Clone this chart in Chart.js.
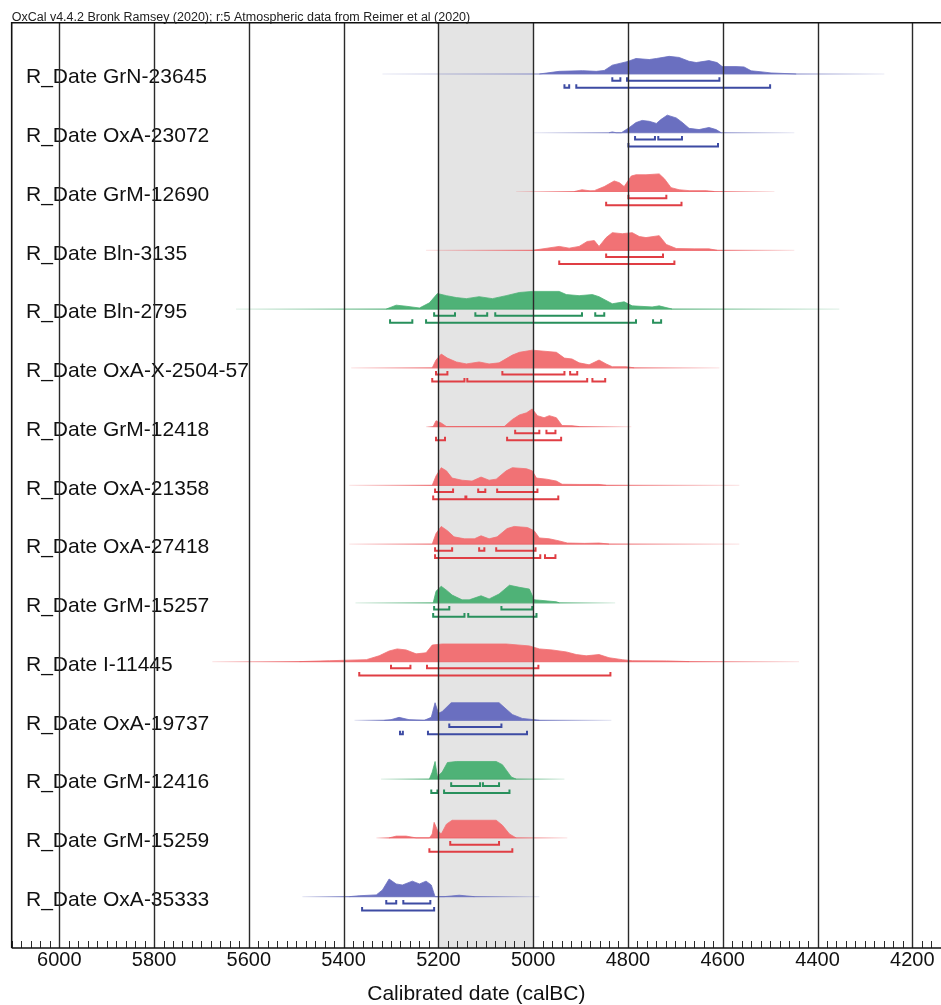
<!DOCTYPE html>
<html>
<head>
<meta charset="utf-8">
<script src="https://cdn.jsdelivr.net/npm/chart.js@4.4.1/dist/chart.umd.min.js"></script>
<style>
  html, body { margin: 0; padding: 0; background: #fff; }
  canvas { display: block; }
</style>
</head>
<body>
<canvas id="oxcal" width="941" height="1005"></canvas>
<script>
// ---- data (years calBC, relative probability 0-100) ----
const sampleNames = [
  'R_Date GrN-23645', 'R_Date OxA-23072', 'R_Date GrM-12690', 'R_Date Bln-3135',
  'R_Date Bln-2795', 'R_Date OxA-X-2504-57', 'R_Date GrM-12418', 'R_Date OxA-21358',
  'R_Date OxA-27418', 'R_Date GrM-15257', 'R_Date I-11445', 'R_Date OxA-19737',
  'R_Date GrM-12416', 'R_Date GrM-15259', 'R_Date OxA-35333'
];
const rowColour = ['blue', 'blue', 'red', 'red', 'green', 'red', 'red', 'red',
  'red', 'green', 'red', 'blue', 'green', 'red', 'blue'];

const xTicks = [6000, 5800, 5600, 5400, 5200, 5000, 4800, 4600, 4400, 4200];
const highlight = [5200, 5000];

// extent of the thin line under each distribution
const extents = [
  [5318, 4259], [5000, 4449], [5036, 4491], [5226, 4449], [5627, 4354],
  [5384, 4607], [5226, 4793], [5388, 4565], [5388, 4565], [5375, 4827],
  [5677, 4439], [5377, 4835], [5321, 4934], [5331, 4928], [5487, 4987]
];

const densities = [
  [[4987,0],[4945,15],[4896,19],[4867,15],[4850,20],[4833,50],[4802,70],[4783,88],[4755,82],[4740,88],[4713,100],[4692,94],[4671,72],[4656,65],[4629,76],[4612,65],[4601,42],[4572,42],[4555,40],[4540,18],[4517,12],[4498,6],[4445,0]],
  [[4840,0],[4833,5],[4825,0],[4814,0],[4797,30],[4783,58],[4770,70],[4755,65],[4740,53],[4730,76],[4717,100],[4698,84],[4686,60],[4671,25],[4650,18],[4629,30],[4614,18],[4603,0]],
  [[4913,0],[4897,10],[4880,4],[4871,5],[4850,28],[4829,60],[4818,50],[4808,28],[4793,88],[4783,95],[4762,95],[4734,100],[4723,72],[4709,22],[4692,10],[4671,5],[4635,5],[4618,0]],
  [[5000,0],[4945,22],[4924,12],[4903,22],[4886,50],[4871,55],[4861,22],[4846,72],[4833,100],[4812,94],[4791,100],[4776,78],[4762,72],[4734,83],[4719,33],[4698,10],[4660,8],[4629,8],[4612,0]],
  [[5310,0],[5289,22],[5268,16],[5240,6],[5219,35],[5202,88],[5183,76],[5162,65],[5141,59],[5114,70],[5086,59],[5057,76],[5029,94],[5002,100],[4945,100],[4930,82],[4903,76],[4875,82],[4861,70],[4833,30],[4808,41],[4791,18],[4749,12],[4734,18],[4707,0]],
  [[5213,0],[5205,44],[5194,78],[5181,55],[5162,33],[5141,22],[5114,33],[5093,22],[5072,28],[5044,72],[5029,88],[5002,100],[4951,88],[4934,55],[4918,50],[4903,28],[4882,17],[4861,44],[4846,22],[4833,6],[4804,6],[4787,0]],
  [[5211,0],[5205,33],[5194,20],[5183,0],[5061,0],[5044,40],[5029,66],[5014,78],[5002,100],[4991,62],[4977,50],[4966,62],[4951,50],[4939,6],[4918,5],[4903,0]],
  [[5213,0],[5205,53],[5194,100],[5183,82],[5171,41],[5150,29],[5129,24],[5110,47],[5093,29],[5078,35],[5057,82],[5044,100],[5014,94],[5002,82],[4993,41],[4972,35],[4951,24],[4939,6],[4903,5],[4861,5],[4846,0]],
  [[5213,0],[5205,60],[5194,100],[5181,76],[5167,41],[5145,30],[5124,30],[5110,47],[5093,30],[5076,41],[5055,88],[5040,100],[5012,94],[4998,76],[4987,35],[4966,30],[4945,18],[4928,6],[4892,4],[4861,6],[4840,0]],
  [[5211,0],[5205,66],[5194,94],[5183,72],[5171,44],[5150,17],[5135,17],[5110,40],[5093,22],[5072,50],[5050,100],[5029,88],[5008,78],[4998,17],[4987,15],[4951,6],[4945,0]],
  [[5493,0],[5430,5],[5352,11],[5325,33],[5304,60],[5287,72],[5268,66],[5247,44],[5226,50],[5213,94],[5192,100],[5057,100],[5008,89],[4987,72],[4960,66],[4930,55],[4909,40],[4888,33],[4861,40],[4840,22],[4812,11],[4791,5],[4719,4],[4671,0]],
  [[5314,0],[5300,4],[5283,17],[5262,4],[5230,0],[5215,17],[5207,100],[5200,40],[5192,50],[5173,100],[5072,100],[5044,33],[5023,11],[5002,5],[4987,0]],
  [[5219,0],[5213,40],[5207,100],[5202,15],[5192,40],[5181,94],[5162,100],[5078,100],[5065,82],[5046,12],[5036,0]],
  [[5304,0],[5289,10],[5268,10],[5247,0],[5219,0],[5213,22],[5209,88],[5202,44],[5194,22],[5183,78],[5171,100],[5078,100],[5065,72],[5050,22],[5036,0]],
  [[5388,0],[5367,5],[5331,10],[5318,38],[5304,100],[5289,72],[5276,66],[5255,88],[5240,72],[5226,88],[5215,66],[5207,0],[5188,0],[5156,8],[5124,0]]
];

// 68.2% and 95.4% highest probability ranges
const ranges68 = [
  [[4833,4816],[4802,4607]],
  [[4785,4743],[4736,4686]],
  [[4799,4719]],
  [[4846,4726]],
  [[5209,5165],[5122,5097],[5080,4897],[4869,4850]],
  [[5205,5181],[5065,4934],[4922,4907]],
  [[5038,4987],[4972,4953]],
  [[5207,5169],[5116,5101],[5076,4991]],
  [[5207,5171],[5114,5103],[5078,4995]],
  [[5209,5177],[5067,5002]],
  [[5300,5259],[5224,4989]],
  [[5177,5067]],
  [[5173,5112],[5106,5072]],
  [[5175,5072]],
  [[5310,5289],[5274,5217]]
];
const ranges95 = [
  [[4934,4924],[4909,4500]],
  [[4799,4610]],
  [[4846,4687]],
  [[4945,4702]],
  [[5302,5255],[5226,4783],[4747,4730]],
  [[5213,5145],[5139,4886],[4875,4848]],
  [[5205,5186],[5055,4941]],
  [[5211,5143],[5141,4947]],
  [[5207,4985],[4975,4953]],
  [[5211,5145],[5137,4993]],
  [[5367,4837]],
  [[5281,5275],[5222,5013]],
  [[5215,5202],[5188,5050]],
  [[5219,5044]],
  [[5361,5209]]
];

// ---- styling ----
const FONT = '"Liberation Sans", Arial, Helvetica, sans-serif';
const palette = {
  blue:  { fill: '#6a6fc0', range: '#3d4ba3', rgb: '110,116,190' },
  red:   { fill: '#f17275', range: '#e03e44', rgb: '236,100,104' },
  green: { fill: '#4fb277', range: '#28905c', rgb: '70,170,110' }
};
const ROW_H = 0.3;     // peak height in row units
const OFF68 = 0.115;
const OFF95 = 0.235;
const TICK = 0.06;

function fadeLine(rgb, ext, core) {
  return (c) => {
    const ch = c.chart, xs = ch.scales.x;
    if (!ch.chartArea || !xs) return `rgba(${rgb},0.6)`;
    const x0 = xs.getPixelForValue(ext[0]), x1 = xs.getPixelForValue(ext[1]);
    const c0 = xs.getPixelForValue(core[0]), c1 = xs.getPixelForValue(core[1]);
    const g = ch.ctx.createLinearGradient(x0, 0, x1, 0);
    const w = x1 - x0;
    g.addColorStop(0, `rgba(${rgb},0.15)`);
    g.addColorStop(Math.min(Math.max((c0 - x0) / w, 0), 1), `rgba(${rgb},0.85)`);
    g.addColorStop(Math.min(Math.max((c1 - x0) / w, 0), 1), `rgba(${rgb},0.85)`);
    g.addColorStop(1, `rgba(${rgb},0.15)`);
    return g;
  };
}

const datasets = [];
sampleNames.forEach((name, i) => {
  const r = i + 1;
  const pal = palette[rowColour[i]];
  const dens = densities[i];
  datasets.push({
    label: name + ' line',
    data: extents[i].map(x => ({ x, y: r })),
    borderColor: fadeLine(pal.rgb, extents[i], [dens[0][0], dens[dens.length - 1][0]]),
    borderWidth: 1.2,
    fill: false
  });
  datasets.push({
    label: name,
    data: dens.map(([x, p]) => ({ x, y: r - p / 100 * ROW_H })),
    borderColor: pal.fill,
    backgroundColor: pal.fill,
    borderWidth: 0.8,
    fill: { value: r }
  });
  const br = [];
  [[ranges68[i], OFF68], [ranges95[i], OFF95]].forEach(([rs, off]) => {
    rs.forEach(([a, b]) => {
      const yl = r + off;
      br.push({ x: a, y: yl - TICK }, { x: a, y: yl }, { x: b, y: yl }, { x: b, y: yl - TICK }, { x: b, y: null });
    });
  });
  datasets.push({
    label: name + ' ranges',
    data: br,
    borderColor: pal.range,
    borderWidth: 2,
    fill: false,
    spanGaps: false
  });
});

const frame = {
  id: 'frame',
  beforeDraw(chart) {
    const { ctx, chartArea: a, scales: { x } } = chart;
    ctx.save();
    ctx.fillStyle = '#fff';
    ctx.fillRect(0, 0, chart.width, chart.height);
    const x0 = x.getPixelForValue(highlight[0]), x1 = x.getPixelForValue(highlight[1]);
    ctx.fillStyle = '#e4e4e4';
    ctx.fillRect(x0, a.top, x1 - x0, a.bottom - a.top);
    ctx.restore();
  },
  afterDatasetsDraw(chart) {
    const { ctx, chartArea: a, scales: { x, y } } = chart;
    ctx.save();
    // sample names
    ctx.fillStyle = '#111';
    ctx.font = '21px ' + FONT;
    ctx.textBaseline = 'alphabetic';
    sampleNames.forEach((name, i) => {
      ctx.fillText(name, 26, y.getPixelForValue(i + 1) + 9.3);
    });
    // century grid lines
    ctx.strokeStyle = '#2a2a2a';
    ctx.lineWidth = 1.4;
    xTicks.forEach(v => {
      const px = Math.round(x.getPixelForValue(v)) + 0.5;
      ctx.beginPath();
      ctx.moveTo(px, a.top);
      ctx.lineTo(px, a.bottom);
      ctx.stroke();
    });
    // minor ticks every 20 years
    ctx.lineWidth = 1;
    for (let v = Math.ceil(x.min / 20) * 20; v <= x.max; v += 20) {
      const px = Math.round(x.getPixelForValue(v)) + 0.5;
      ctx.beginPath();
      ctx.moveTo(px, a.bottom);
      ctx.lineTo(px, a.bottom - 7);
      ctx.stroke();
    }
    // plot frame
    ctx.strokeStyle = '#111';
    ctx.lineWidth = 1.6;
    ctx.beginPath();
    ctx.moveTo(a.left, a.bottom);
    ctx.lineTo(a.left, a.top);
    ctx.lineTo(a.right, a.top);
    ctx.moveTo(a.left, a.bottom);
    ctx.lineTo(a.right, a.bottom);
    ctx.stroke();
    // header
    ctx.fillStyle = '#222';
    ctx.font = '12.5px ' + FONT;
    ctx.fillText('OxCal v4.4.2 Bronk Ramsey (2020); r:5 Atmospheric data from Reimer et al (2020)', a.left, a.top - 1.5, 460);
    ctx.restore();
  }
};

new Chart(document.getElementById('oxcal'), {
  type: 'line',
  data: { datasets },
  options: {
    responsive: false,
    animation: false,
    events: [],
    layout: { padding: { left: 11.7, top: 22.7, right: 0, bottom: 0 } },
    elements: { point: { radius: 0 }, line: { tension: 0 } },
    plugins: { legend: { display: false }, tooltip: { enabled: false } },
    scales: {
      x: {
        type: 'linear',
        reverse: true,
        min: 4139.4,
        max: 6100.4,
        afterBuildTicks: s => { s.ticks = xTicks.map(v => ({ value: v })); },
        afterFit: s => { s.height = 57; },
        grid: { display: false, drawTicks: false },
        border: { display: false },
        ticks: {
          color: '#111',
          font: { family: FONT, size: 20 },
          padding: 0,
          maxRotation: 0,
          autoSkip: false,
          callback: v => String(v)
        },
        title: {
          display: true,
          text: 'Calibrated date (calBC)',
          color: '#111',
          font: { family: FONT, size: 21, lineHeight: 1 },
          padding: 0
        }
      },
      y: {
        type: 'linear',
        reverse: true,
        min: 0.127,
        max: 15.874,
        display: false
      }
    }
  },
  plugins: [frame]
});
</script>
</body>
</html>
